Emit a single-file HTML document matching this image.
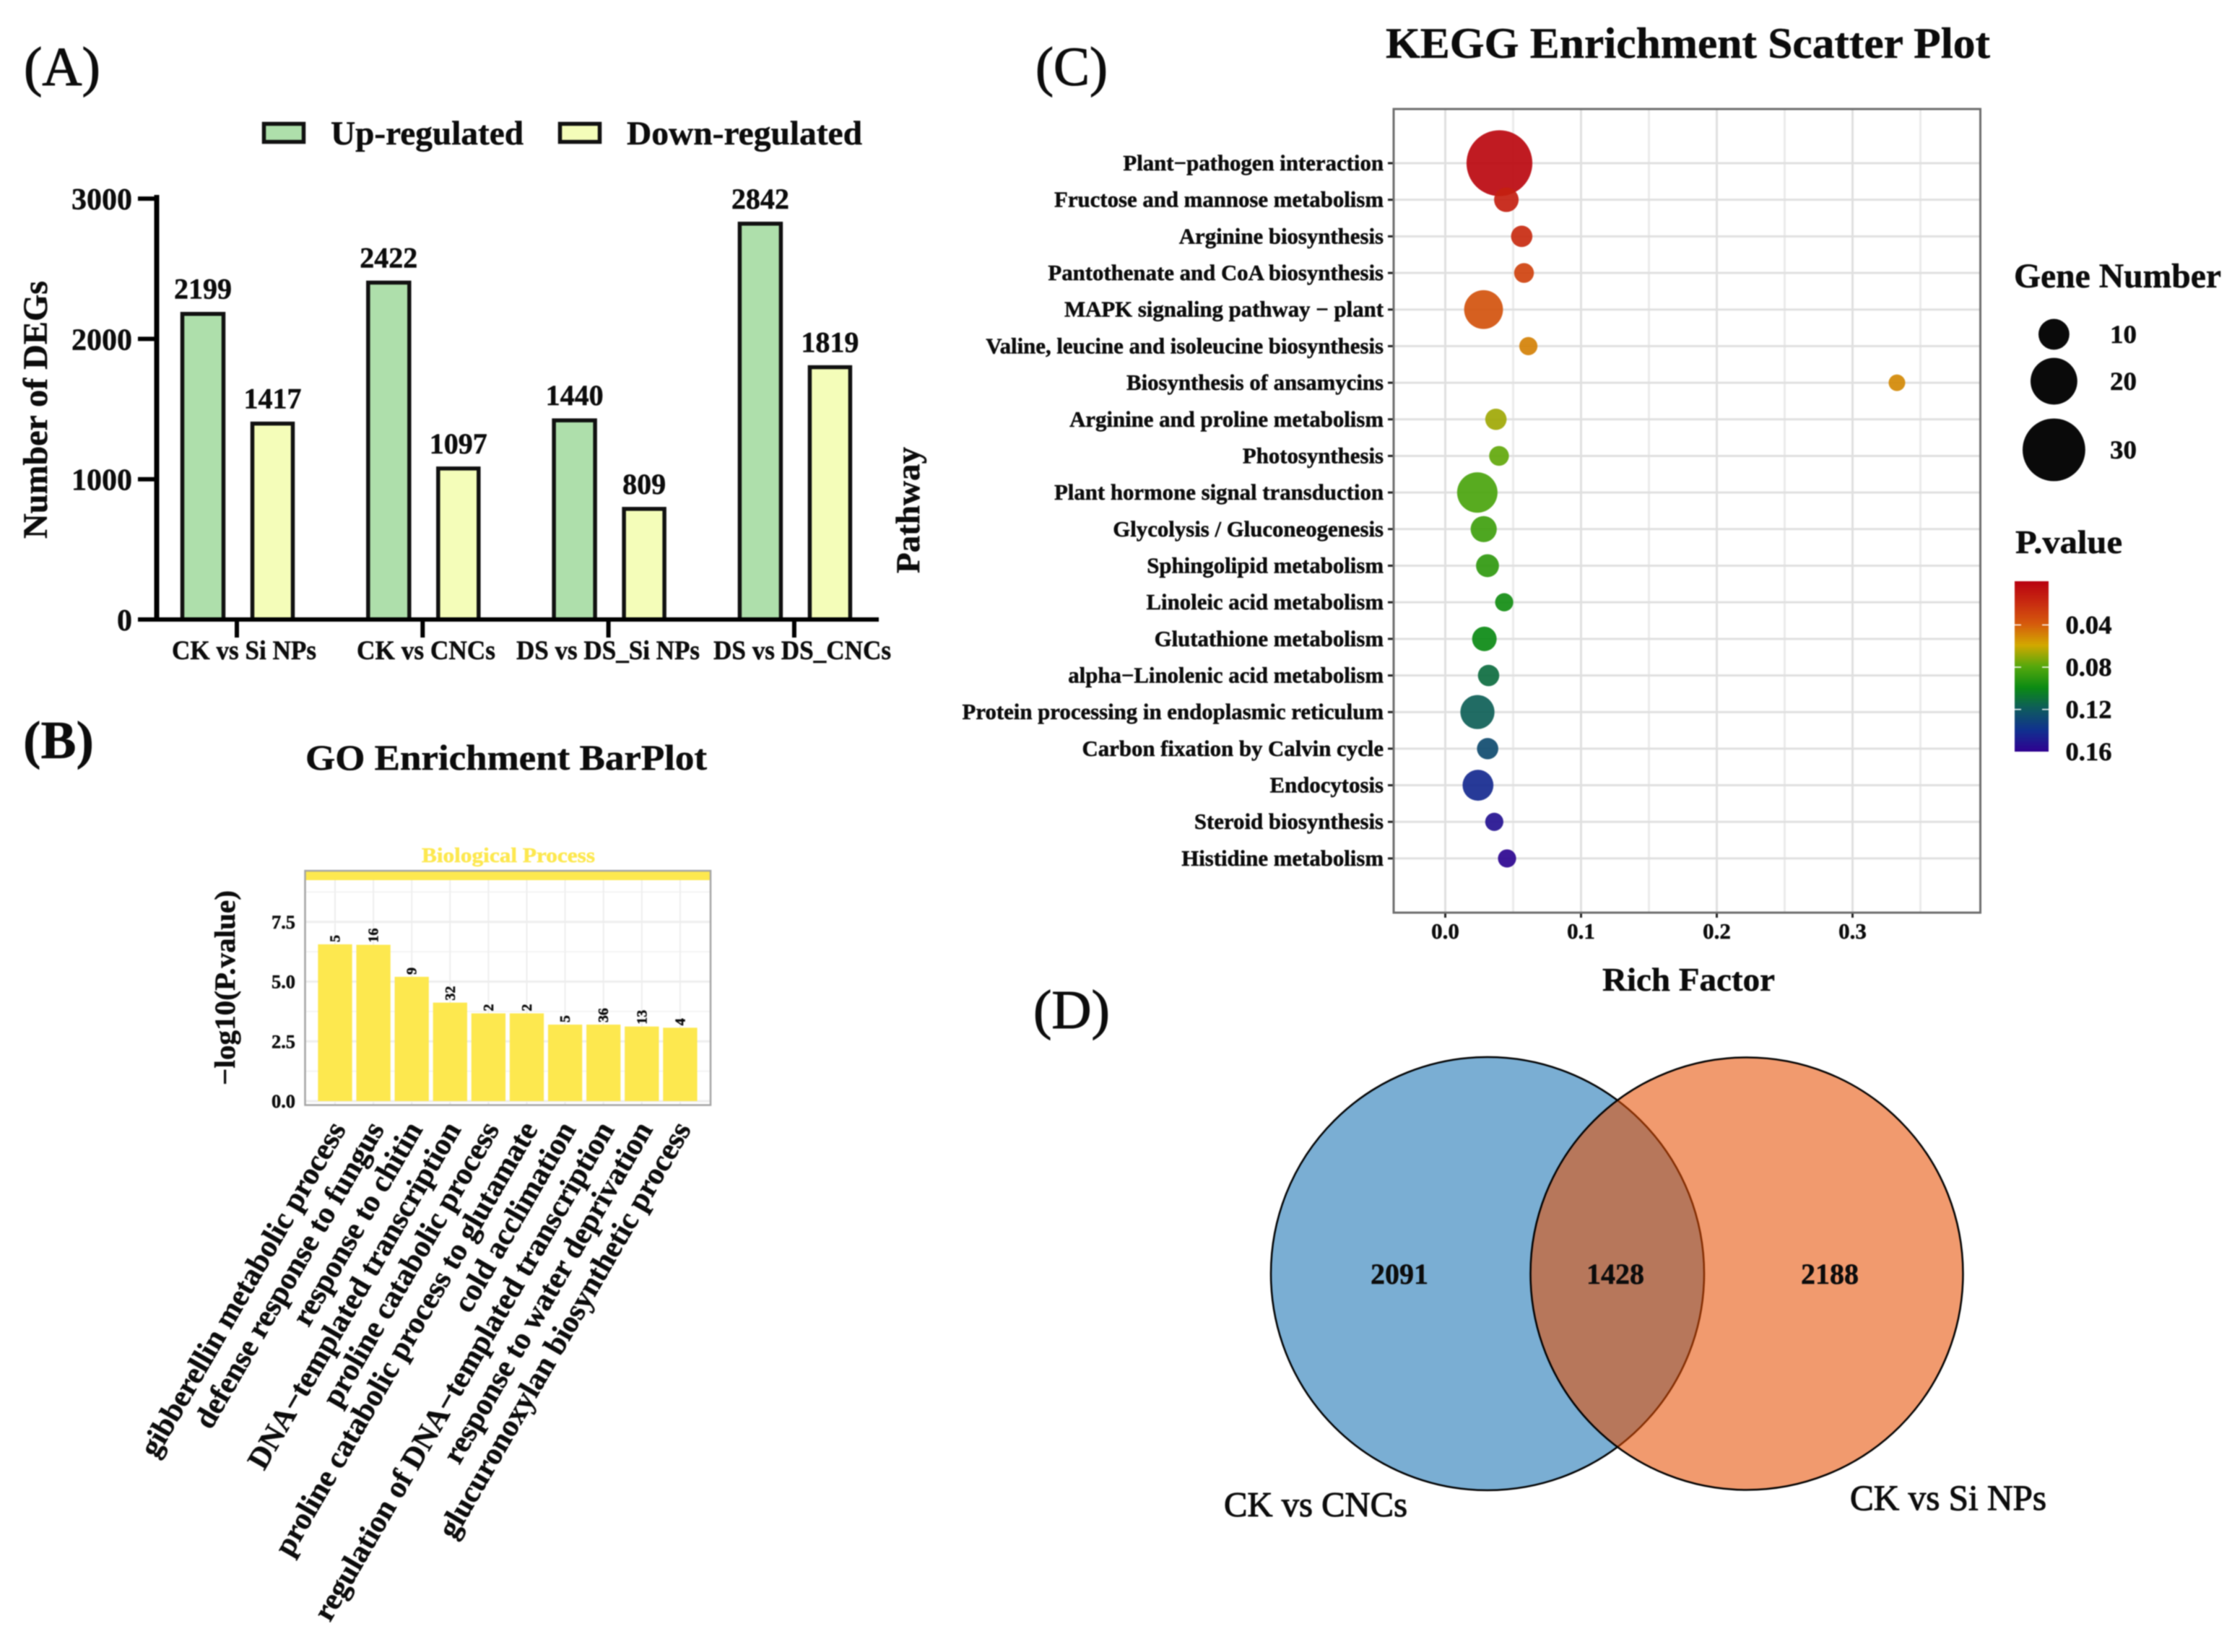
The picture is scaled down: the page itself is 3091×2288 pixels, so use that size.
<!DOCTYPE html>
<html lang="en">
<head>
<meta charset="utf-8">
<title>DEG, GO, KEGG and Venn figure</title>
<style>
html,body{margin:0;padding:0;background:#fff;}
svg{display:block;font-family:"Liberation Serif",serif;filter:blur(0.7px);}
text{fill:#0c0c0c;stroke:#0c0c0c;stroke-width:0.5px;}
.heavy{stroke-width:1.1px;}
</style>
</head>
<body>
<svg id="figure" xmlns="http://www.w3.org/2000/svg" width="3091" height="2288" viewBox="0 0 3091 2288">
  <rect x="0" y="0" width="3091" height="2288" fill="#ffffff"/>
  <text class="heavy" x="33" y="118" font-size="76" textLength="106" lengthAdjust="spacingAndGlyphs">(A)</text>
  <text x="32" y="1050" font-size="74" font-weight="bold" textLength="98" lengthAdjust="spacingAndGlyphs">(B)</text>
  <text class="heavy" x="1434" y="118" font-size="76" textLength="100" lengthAdjust="spacingAndGlyphs">(C)</text>
  <text class="heavy" x="1431" y="1424" font-size="76" textLength="106" lengthAdjust="spacingAndGlyphs">(D)</text>

  <g id="panel-a"></g>
  <g id="panel-b"></g>
  <g id="panel-c"></g>

  <g id="panel-d">
    <circle cx="2060" cy="1764" r="300" fill="#1a74b4" fill-opacity="0.58" stroke="none"/>
    <circle cx="2060" cy="1764" r="300" fill="none" stroke="#000" stroke-width="2.5"/>
    <circle cx="2419" cy="1764" r="299.5" fill="#e64d00" fill-opacity="0.57" stroke="#000" stroke-width="2.5"/>
    <text x="1938" y="1778" font-size="40" font-weight="bold" text-anchor="middle">2091</text>
    <text x="2237" y="1778" font-size="40" font-weight="bold" text-anchor="middle">1428</text>
    <text x="2534" y="1778" font-size="40" font-weight="bold" text-anchor="middle">2188</text>
    <text class="heavy" x="1695" y="2100" font-size="49" textLength="254" lengthAdjust="spacingAndGlyphs">CK vs CNCs</text>
    <text class="heavy" x="2562" y="2091" font-size="50" textLength="272" lengthAdjust="spacingAndGlyphs">CK vs Si NPs</text>
  </g>
</svg>

<script>
/* ---------- Panel A data ---------- */
const degCategories = ["CK vs Si NPs", "CK vs CNCs", "DS vs DS_Si NPs", "DS vs DS_CNCs"];
const upRegulated = [2199, 2422, 1440, 2842];
const downRegulated = [1417, 1097, 809, 1819];
const degTicks = [0, 1000, 2000, 3000];

/* ---------- Panel B data ---------- */
const goTerms = [
  "gibberellin metabolic process",
  "defense response to fungus",
  "response to chitin",
  "DNA\u2212templated transcription",
  "proline catabolic process",
  "proline catabolic process to glutamate",
  "cold acclimation",
  "regulation of DNA\u2212templated transcription",
  "response to water deprivation",
  "glucuronoxylan biosynthetic process"
];
const goLogP = [6.56, 6.54, 5.2, 4.12, 3.67, 3.67, 3.2, 3.2, 3.12, 3.07];
const goCounts = [5, 16, 9, 32, 2, 2, 5, 36, 13, 4];
const goTicks = [0, 2.5, 5, 7.5];
const goMinorTicks = [1.25, 3.75, 6.25, 8.75];

/* ---------- Panel C data ---------- */
const pathways = [
  "Plant\u2212pathogen interaction",
  "Fructose and mannose metabolism",
  "Arginine biosynthesis",
  "Pantothenate and CoA biosynthesis",
  "MAPK signaling pathway \u2212 plant",
  "Valine, leucine and isoleucine biosynthesis",
  "Biosynthesis of ansamycins",
  "Arginine and proline metabolism",
  "Photosynthesis",
  "Plant hormone signal transduction",
  "Glycolysis / Gluconeogenesis",
  "Sphingolipid metabolism",
  "Linoleic acid metabolism",
  "Glutathione metabolism",
  "alpha\u2212Linolenic acid metabolism",
  "Protein processing in endoplasmic reticulum",
  "Carbon fixation by Calvin cycle",
  "Endocytosis",
  "Steroid biosynthesis",
  "Histidine metabolism"
];
const richFactor = [0.0399, 0.045, 0.0563, 0.058, 0.0282, 0.0612, 0.3327, 0.0373, 0.0396, 0.0236, 0.0283, 0.0311, 0.0434, 0.0288, 0.0319, 0.0237, 0.0312, 0.0241, 0.0361, 0.0455];
const geneNumber = [32, 6, 4, 3, 15, 2, 1, 4, 3, 16, 7, 5, 2, 6, 4, 12, 4, 10, 2, 2];
const pValue = [0.004, 0.015, 0.02, 0.03, 0.037, 0.05, 0.052, 0.068, 0.078, 0.083, 0.086, 0.09, 0.098, 0.1, 0.112, 0.118, 0.127, 0.143, 0.153, 0.158];
const richTicks = [0, 0.1, 0.2, 0.3];
const richMinorTicks = [0.05, 0.15, 0.25, 0.35];
const sizeLegendValues = [10, 20, 30];
const colorbarTicks = [0.04, 0.08, 0.12, 0.16];
const colorStopP = [0, 0.02, 0.04, 0.06, 0.08, 0.10, 0.12, 0.14, 0.16];
const colorStopHex = ["#b8000f", "#c82a10", "#d55a0c", "#d2a800", "#55a80c", "#0b8a13", "#0e5a5e", "#10308f", "#2f0090"];

/* ---------- Helpers ---------- */
const NS = "http://www.w3.org/2000/svg";
function shape(parent, tag, attrs) {
  const el = document.createElementNS(NS, tag);
  for (const k in attrs) el.setAttribute(k, attrs[k]);
  parent.appendChild(el);
  return el;
}
function line(parent, x1, y1, x2, y2, stroke, width) {
  return shape(parent, "line", { x1: x1, y1: y1, x2: x2, y2: y2, stroke: stroke, "stroke-width": width });
}
function label(parent, x, y, str, size, opts) {
  const o = opts || {};
  const el = shape(parent, "text", { x: x, y: y, "font-size": size });
  if (o.bold !== false) el.setAttribute("font-weight", "bold");
  if (o.anchor) el.setAttribute("text-anchor", o.anchor);
  if (o.len) { el.setAttribute("textLength", o.len); el.setAttribute("lengthAdjust", "spacingAndGlyphs"); }
  if (o.fill) el.setAttribute("style", "fill:" + o.fill + ";stroke:" + o.fill);
  if (o.rot !== undefined) el.setAttribute("transform", "rotate(" + o.rot + " " + x + " " + y + ")");
  el.textContent = str;
  return el;
}
function hexToRgb(h) {
  return [parseInt(h.slice(1, 3), 16), parseInt(h.slice(3, 5), 16), parseInt(h.slice(5, 7), 16)];
}
function colorFor(p) {
  const last = colorStopP.length - 1;
  if (p <= colorStopP[0]) return colorStopHex[0];
  if (p >= colorStopP[last]) return colorStopHex[last];
  let i = 0;
  while (p > colorStopP[i + 1]) i++;
  const t = (p - colorStopP[i]) / (colorStopP[i + 1] - colorStopP[i]);
  const a = hexToRgb(colorStopHex[i]);
  const b = hexToRgb(colorStopHex[i + 1]);
  return "rgb(" + a.map(function (v, k) { return Math.round(v + (b[k] - v) * t); }).join(",") + ")";
}

/* ---------- Panel A ---------- */
(function () {
  const g = document.getElementById("panel-a");
  const yA = function (v) { return 860 - v * 0.1943; };
  const xA = function (i) { return 328 + 257.3 * i; };
  const upW = 57, downW = 56, barStroke = 5.5;

  const s1 = shape(g, "rect", { x: 365.5, y: 171.5, width: 55, height: 25, fill: "#aedfab", stroke: "#111", "stroke-width": 5.5 });
  
  
  const l1 = label(g, 458, 200, "Up-regulated", 47, { len: 267 });
  
  
  const s2 = shape(g, "rect", { x: 775.5, y: 171.5, width: 55, height: 25, fill: "#f4fdb9", stroke: "#111", "stroke-width": 5.5 });
  
  
  const l2 = label(g, 868, 200, "Down-regulated", 47, { len: 326 });
  
  

  degCategories.forEach(function (cat, i) {
    const cx = xA(i);
    const upTop = yA(upRegulated[i]) + 2;
    const up = shape(g, "rect", { x: cx - 75.5, y: upTop, width: upW, height: 858 - upTop, fill: "#aedfab", stroke: "#111", "stroke-width": barStroke });
    
    
    const downTop = yA(downRegulated[i]) + 2;
    const down = shape(g, "rect", { x: cx + 21.5, y: downTop, width: downW, height: 858 - downTop, fill: "#f4fdb9", stroke: "#111", "stroke-width": barStroke });
    
    
    const upText = label(g, cx - 47, yA(upRegulated[i]) - 19, String(upRegulated[i]), 40, { anchor: "middle" });
    
    
    const downText = label(g, cx + 49.5, yA(downRegulated[i]) - 19, String(downRegulated[i]), 40, { anchor: "middle" });
    
    
    const tick = line(g, cx, 858, cx, 883, "#000", 6);
    
    
  });

  const catPos = [
    [238, 200], [494, 192], [715, 254], [988, 246]
  ];
  degCategories.forEach(function (cat, i) {
    const t = label(g, catPos[i][0], 913, cat, 37, { len: catPos[i][1] });
    
    
  });

  const yAxis = line(g, 217, 270, 217, 861, "#000", 7);
  
  
  const xAxis = line(g, 191, 858, 1217, 858, "#000", 6);
  
  
  degTicks.forEach(function (v) {
    const ty = yA(v) - 2;
    const tk = line(g, 191, ty, 217, ty, "#000", 6);
    
    
    const tl = label(g, 183, ty + 15, String(v), 42, { anchor: "end" });
    
    
  });
  const yt = label(g, 65, 746, "Number of DEGs", 48, { rot: -90, len: 357 });
  
  
})();

/* ---------- Panel B ---------- */
(function () {
  const g = document.getElementById("panel-b");
  const yellow = "#fde84f";
  const xB = function (i) { return 464 + 53.1 * i; };
  const yB = function (v) { return 1525 - v * 33.1; };
  const barW = 47.3;

  const title = label(g, 423, 1066, "GO Enrichment BarPlot", 50, { len: 556 });
  
  
  const strip = label(g, 584, 1194, "Biological Process", 29, { len: 240, fill: yellow });
  
  

  goMinorTicks.forEach(function (v) {
    const m = line(g, 423, yB(v), 984, yB(v), "#f4f4f4", 2);
    
    
  });
  goTicks.forEach(function (v) {
    const m = line(g, 423, yB(v), 984, yB(v), "#eeeeee", 3);
    
    
    const tl = label(g, 409, yB(v) + 9, v.toFixed(1), 26, { anchor: "end", len: 33 });
    
    
  });
  goTerms.forEach(function (term, i) {
    const v = line(g, xB(i), 1219, xB(i), 1530, "#eeeeee", 2);
    
    
  });
  goTerms.forEach(function (term, i) {
    const bar = shape(g, "rect", { x: xB(i) - barW / 2, y: yB(goLogP[i]), width: barW, height: 1525 - yB(goLogP[i]), fill: yellow });
    
    
    const c = label(g, xB(i) + 6.5, yB(goLogP[i]) - 3, String(goCounts[i]), 20, { rot: -90 });
    
    
    const t = label(g, xB(i) + 16, 1564, term, 42.5, { anchor: "end", rot: -60 });
    
    
  });
  const stripBar = shape(g, "rect", { x: 423, y: 1207, width: 561, height: 12, fill: yellow });
  
  
  const frame = shape(g, "rect", { x: 422.5, y: 1206, width: 561.5, height: 324.5, fill: "none", stroke: "#a4a4a4", "stroke-width": 2.5 });
  
  
  const yt = label(g, 325, 1503, "\u2212log10(P.value)", 40, { rot: -90, len: 270 });
  
  
})();

/* ---------- Panel C ---------- */
(function () {
  const g = document.getElementById("panel-c");
  const xC = function (v) { return 2001.5 + 1880 * v; };
  const yC = function (i) { return 226 + 50.68 * i; };
  const rC = function (n) { return 10.4 + 1.1 * n; };
  const yBar = function (p) { return 807 + p * 1463; };

  const title = label(g, 1919, 80, "KEGG Enrichment Scatter Plot", 60, { len: 837 });
  
  

  richMinorTicks.forEach(function (v) {
    const m = line(g, xC(v), 151, xC(v), 1264, "#ebebeb", 3);
    
    
  });
  richTicks.forEach(function (v) {
    const m = line(g, xC(v), 151, xC(v), 1264, "#e0e0e0", 3);
    
    
    const tk = line(g, xC(v), 1264, xC(v), 1271, "#222", 3);
    
    
    const tl = label(g, xC(v), 1300, v.toFixed(1), 31, { anchor: "middle" });
    
    
  });
  pathways.forEach(function (name, i) {
    const m = line(g, 1930, yC(i), 2742, yC(i), "#e0e0e0", 3);
    
    
    const tk = line(g, 1922, yC(i), 1930, yC(i), "#222", 3);
    
    
    const tl = label(g, 1916, yC(i) + 10, name, 30.8, { anchor: "end" });
    
    
  });
  pathways.forEach(function (name, i) {
    const c = shape(g, "circle", { cx: xC(richFactor[i]), cy: yC(i), r: rC(geneNumber[i]), fill: colorFor(pValue[i]), "fill-opacity": 0.92 });
    
    
  });
  const frame = shape(g, "rect", { x: 1930, y: 151, width: 812.5, height: 1113, fill: "none", stroke: "#6e6e6e", "stroke-width": 3 });
  
  

  const xt = label(g, 2219, 1372, "Rich Factor", 46, { len: 239 });
  
  
  const yt = label(g, 1273, 794, "Pathway", 47, { rot: -90, len: 175 });
  
  

  const sizeTitle = label(g, 2789, 398, "Gene Number", 48, { len: 287 });
  
  
  const legendY = [463, 528, 623];
  sizeLegendValues.forEach(function (n, i) {
    const c = shape(g, "circle", { cx: 2844.4, cy: legendY[i], r: rC(n), fill: "#0a0a0a" });
    
    
    const t = label(g, 2922, legendY[i] + 12, String(n), 36, { len: 37 });
    
    
  });

  const pTitle = label(g, 2791, 766, "P.value", 46, { len: 148 });
  
  

  const defs = shape(g, "defs", {});
  const grad = shape(defs, "linearGradient", { id: "pvalue-gradient", x1: 0, y1: 0, x2: 0, y2: 1 });
  colorStopP.forEach(function (p, i) {
    shape(grad, "stop", { offset: (p / 0.16 * 100) + "%", "stop-color": colorStopHex[i] });
  });
  const bar = shape(g, "rect", { x: 2790, y: 805, width: 47, height: 236, fill: "url(#pvalue-gradient)" });
  
  
  colorbarTicks.forEach(function (p) {
    const ty = yBar(p);
    if (p < 0.16) {
      const a = line(g, 2790, ty, 2799, ty, "#fff", 1.5);
      
      
      const b = line(g, 2828, ty, 2837, ty, "#fff", 1.5);
      
      
    }
    const t = label(g, 2860.5, ty + 12, p.toFixed(2), 36, { len: 64 });
    
    
  });
})();
</script>
</body>
</html>
